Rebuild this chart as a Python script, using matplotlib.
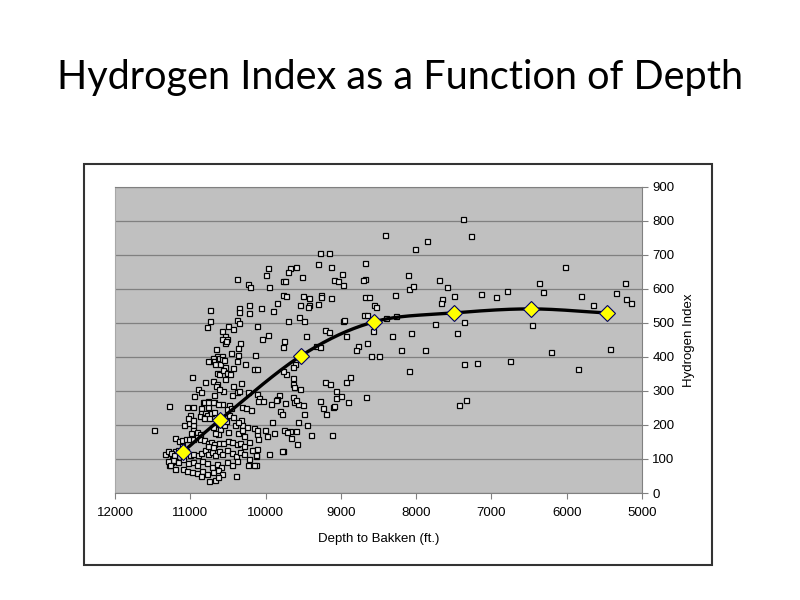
import matplotlib
matplotlib.use("Agg")
import matplotlib.pyplot as plt
from matplotlib.patches import Rectangle
import numpy as np

# sample points: depth to Bakken (ft) and hydrogen index
depth = [
    7383, 7272, 7494, 7462, 7369, 7369, 7188, 7436, 7343, 7143, 6940, 6790, 6750,
    6458, 6365, 6320, 6020, 6210, 5808, 5656, 5851, 5422, 5347, 5231, 5218, 5152,
    8419, 7853, 8020, 9274, 9162, 8680, 9300, 9136, 9600, 9676, 9703, 9521, 8981,
    8676, 8703, 8114, 7702, 9773, 9746, 9097, 9035, 8968, 8101, 8048, 7591, 9765,
    9733, 9507, 9424, 9260, 9260, 9136, 8676, 8631, 8282, 7650, 7667, 9543, 9424,
    9437, 9300, 8556, 8538, 8698, 8658, 9703, 9560, 9494, 8968, 8955, 8402, 8268,
    7745, 9467, 9215, 9158, 8938, 8570, 8322, 8074,
    9964, 9991, 10380, 10238, 10211, 9951, 10738, 10349, 10349, 10224, 10220,
    10061, 9898, 9853, 10734, 10384, 10353, 10118, 10778, 10503, 10433, 10579,
    10543, 10517, 9968, 10048,
    10336, 9756, 9769, 10655, 10362, 10579, 10543, 10530,
    10463, 10362, 10141, 10650, 10695, 10721, 10765, 10681, 10636, 10615, 10583,
    10579, 10669, 10606, 10557, 10384, 10274, 10150, 10114, 10543, 10429, 10650,
    10619, 10570, 10517, 10473, 10543, 10699, 10641, 10663, 10805, 10973, 10429,
    10327, 10570, 10615, 10894, 10858, 10690, 10443, 10376, 10358, 10231, 10111,
    10084, 10947, 10690, 10770, 10827, 10575, 9818, 9853, 9739, 11048, 10968,
    10765, 10858,
    9334, 9278, 8773, 8803, 8650, 8597, 8491, 8198, 7879, 8101, 9610, 9636, 9729,
    9640, 9632, 9619, 9547, 9215, 9145, 8929, 8875, 9071, 9066, 9000, 8902, 8667,
    9632, 9623, 9574, 9596, 9507, 9275, 9243, 9202, 9110, 9092, 9494, 9574, 9450,
    9676, 9592, 9397, 9122, 9659, 9587, 9769,
    11287, 11478, 11336, 11287, 11243, 11212, 11252, 11207, 11207,
    10814, 10761, 10695, 10636, 10486, 10509, 10455, 10317, 10264, 11004, 10858,
    10810, 10871, 10818, 10774, 10730, 10685, 10814, 10748, 10486, 10437, 10332,
    10318, 10251, 11089, 11023, 10960, 10968, 10916, 10991, 10871, 10695, 10606,
    10628, 10672, 10504, 10371, 10318, 10287, 10118, 10154, 11200, 11146, 11106,
    11057, 11017, 10968, 10915, 10871, 10814, 10770, 10725, 10681, 10616, 10562,
    10504, 10446, 10376, 10340, 10225, 11292, 11256, 11216, 11159, 11114, 11057,
    11004, 10960, 10902, 10858, 10805, 10761, 10716, 10668, 10624, 10583, 10517,
    10450, 10393, 10340, 10283, 10220, 10154, 10127, 11226, 11159, 11093, 11027,
    10968, 10915, 10845, 10782, 10716, 10650, 10597, 10517, 10450, 10376, 11093,
    11040, 10982, 10915, 10849, 10775, 10695, 10628, 10583, 10748, 10672, 10628,
    10858, 10238, 10127, 10393, 11027, 10960, 10616, 10553, 10526, 10406, 10371,
    10284, 10761, 10695, 11114, 11292, 11270, 11203,
    10097, 10035, 9932, 9866, 9809, 9786, 10194, 9915, 10114, 10008, 9760, 9720,
    9986, 10097, 9892, 10177, 10114, 9959, 9778, 10131, 10154, 9766,
]
hi = [
    804, 755, 579, 470, 502, 380, 382, 259, 274, 585, 575, 593, 388,
    494, 617, 590, 665, 413, 579, 551, 365, 424, 587, 617, 569, 557,
    757, 741, 718, 706, 706, 675, 672, 663, 663, 661, 648, 636, 643,
    630, 627, 641, 627, 624, 624, 626, 624, 611, 599, 608, 605, 582,
    579, 578, 574, 583, 575, 573, 575, 575, 581, 570, 559, 553, 551,
    546, 554, 551, 546, 522, 524, 506, 516, 506, 504, 507, 514, 519,
    498, 461, 478, 472, 461, 476, 461, 470,
    660, 641, 630, 614, 605, 605, 537, 545, 533, 551, 530,
    543, 534, 557, 506, 507, 500, 492, 488, 492, 483, 475,
    461, 453, 464, 453,
    440, 447, 428, 422, 425, 452, 440, 446,
    410, 407, 406, 402, 398, 388, 388, 388, 392, 397, 403,
    393, 380, 380, 392, 388, 379, 364, 364, 370, 367, 353,
    350, 361, 353, 350, 335, 329, 319, 315, 326, 340, 314,
    322, 299, 305, 306, 298, 289, 288, 297, 299, 296, 290,
    280, 284, 266, 270, 267, 262, 289, 277, 265, 253, 253,
    252, 249,
    431, 428, 431, 419, 440, 402, 402, 421, 419, 358, 378, 370, 350,
    337, 320, 311, 306, 325, 320, 325, 340, 300, 280, 285, 268, 282,
    282, 266, 262, 272, 259, 271, 249, 232, 252, 255, 232, 208, 199,
    181, 181, 171, 171, 162, 145, 123,
    255, 185, 115, 83, 99, 106, 92, 94, 124,
    268, 266, 268, 263, 258, 248, 251, 253, 251, 230, 234,
    235, 226, 224, 228, 234, 238, 219, 219, 230, 222, 214,
    199, 193, 201, 206, 201, 185, 179, 175, 173, 193, 187,
    173, 175, 180, 175, 185, 168, 173, 192, 163, 152, 157,
    160, 158, 158, 165, 160, 155, 148, 150, 145, 146, 148,
    152, 150, 144, 148, 150, 124, 118, 111, 126, 119, 124,
    111, 116, 111, 118, 126, 116, 121, 111, 124, 114, 126,
    118, 108, 121, 116, 99, 126, 108, 97, 92, 99, 87,
    92, 82, 94, 87, 77, 85, 77, 92, 82, 95, 72,
    65, 62, 58, 65, 56, 62, 67, 56, 35, 38, 46,
    50, 81, 81, 51, 219, 214, 204, 200, 212, 199, 209,
    138, 138, 136, 138, 95, 82, 72,
    271, 270, 261, 273, 240, 232, 243, 208, 185, 185, 185, 179,
    167, 158, 175, 126, 130, 115, 124, 111, 82, 358,
]

# binned averages (yellow diamonds)
avg_depth = [11100, 10600, 9530, 8560, 7500, 6480, 5460]
avg_hi = [120, 216, 403, 503, 529, 541, 529]


def smooth(xs, ys, n=30):
    # catmull-rom through the averages, like excel's smoothed line
    p = np.column_stack([xs, ys]).astype(float)
    p = np.vstack([2 * p[0] - p[1], p, 2 * p[-1] - p[-2]])
    out = []
    t = np.linspace(0, 1, n)[:, None]
    for i in range(1, len(p) - 2):
        p0, p1, p2, p3 = p[i - 1], p[i], p[i + 1], p[i + 2]
        seg = 0.5 * ((2 * p1) + (-p0 + p2) * t
                     + (2 * p0 - 5 * p1 + 4 * p2 - p3) * t ** 2
                     + (-p0 + 3 * p1 - 3 * p2 + p3) * t ** 3)
        out.append(seg)
    out = np.vstack(out)
    return out[:, 0], out[:, 1]


fig = plt.figure(figsize=(8, 6), dpi=100)

fig.text(0.5, 0.87, "Hydrogen Index as a Function of Depth", ha="center",
         va="center", fontsize=28.5, family="Lato")

# chart frame
fig.patches.append(Rectangle((0.105, 0.0583), 0.785, 0.668, transform=fig.transFigure,
                             fill=False, edgecolor="#333333", linewidth=1.5))

ax = fig.add_axes([0.14375, 0.1783, 0.65875, 0.5105])
ax.set_facecolor("#C0C0C0")

ax.plot(depth, hi, linestyle="none", marker="s", markersize=3.6,
        markerfacecolor="#E8E8E8", markeredgecolor="black", markeredgewidth=0.9,
        zorder=3)

sx, sy = smooth(avg_depth, avg_hi)
ax.plot(sx, sy, color="black", linewidth=2.4, zorder=4)
ax.plot(avg_depth, avg_hi, linestyle="none", marker="D", markersize=8.5,
        markerfacecolor="#FFFF00", markeredgecolor="#000066", markeredgewidth=0.8,
        zorder=5)

ax.set_xlim(12000, 5000)
ax.set_ylim(0, 900)
ax.set_xticks(np.arange(12000, 4999, -1000))
ax.set_yticks(np.arange(0, 901, 100))
ax.yaxis.tick_right()
ax.yaxis.set_label_position("right")
ax.grid(axis="y", color="#808080", linewidth=0.9)
ax.set_axisbelow(True)

for s in ["bottom", "right"]:
    ax.spines[s].set_color("#808080")
ax.spines["top"].set_color("#808080")
ax.spines["left"].set_color("#A8A8A8")
ax.tick_params(colors="#808080", labelcolor="black", labelsize=9.5, length=4,
               direction="out")
ax.tick_params(axis="x", pad=6)
for lab in ax.get_xticklabels() + ax.get_yticklabels():
    lab.set_family("Liberation Sans")

ax.set_xlabel("Depth to Bakken (ft.)", fontsize=9.5, family="Liberation Sans",
              labelpad=10)
ax.set_ylabel("Hydrogen Index", fontsize=9.5, family="Liberation Sans",
              labelpad=6)

fig.savefig("out.png", dpi=100)
